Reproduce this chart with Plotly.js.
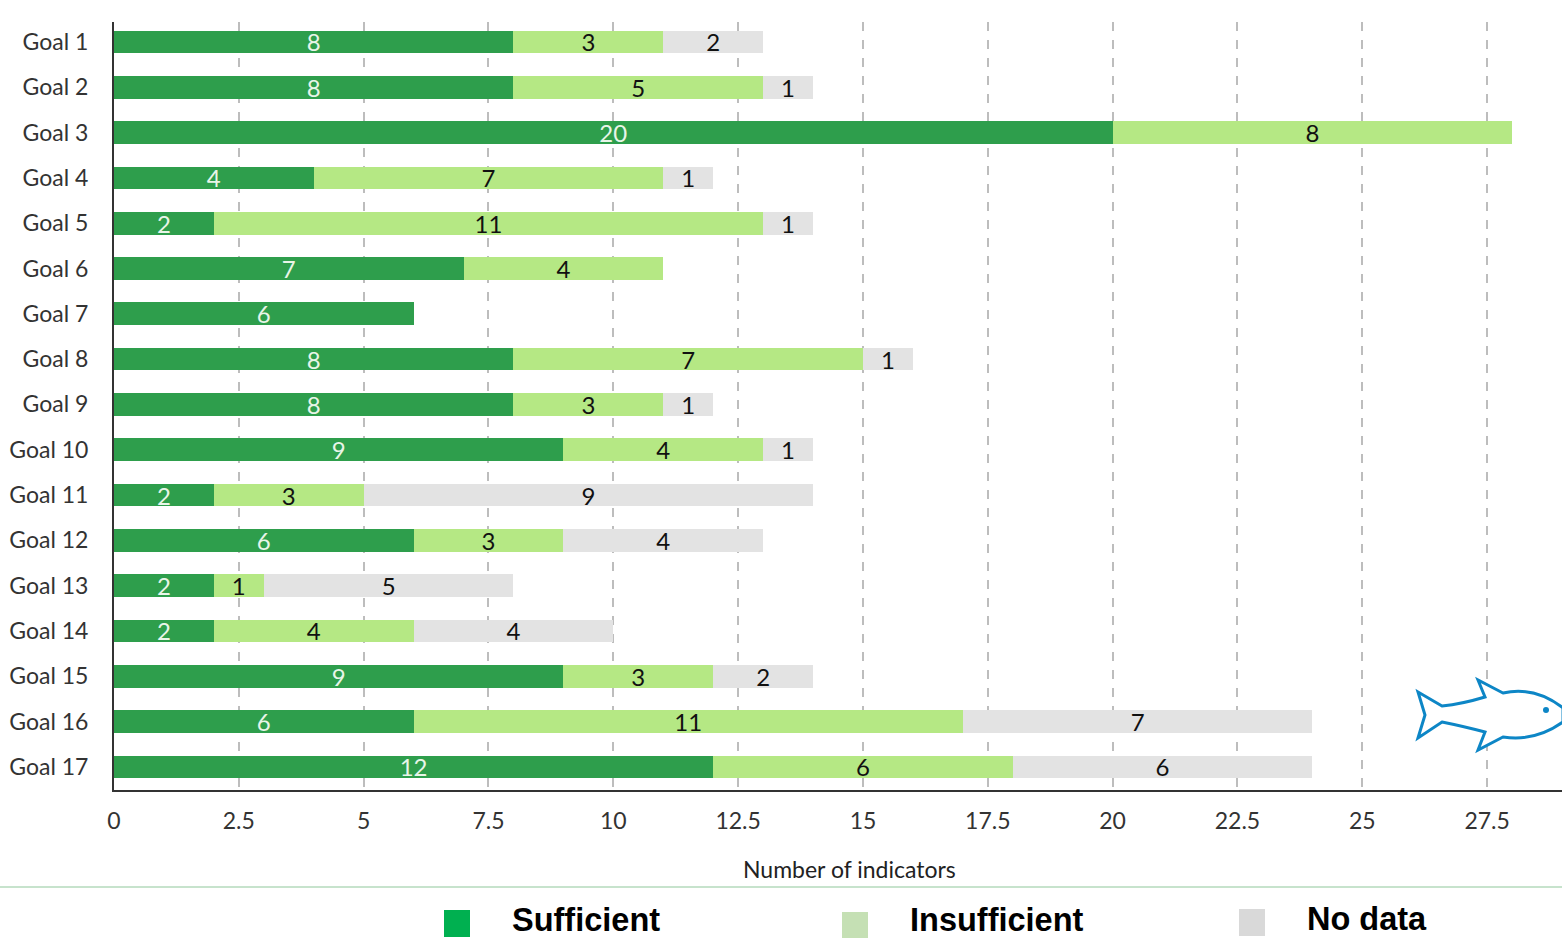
<!DOCTYPE html>
<html><head><meta charset="utf-8">
<script src="https://cdn.plot.ly/plotly-3.0.1.min.js"></script>
<style>html,body{margin:0;padding:0;background:#fff}#c{width:1562px;height:938px}</style></head>
<body><div id="c"></div>
<script>
const goals = ["Goal 1","Goal 2","Goal 3","Goal 4","Goal 5","Goal 6","Goal 7","Goal 8","Goal 9","Goal 10","Goal 11","Goal 12","Goal 13","Goal 14","Goal 15","Goal 16","Goal 17"];
const sufficient   = [8,8,20,4,2,7,6,8,8,9,2,6,2,2,9,6,12];
const insufficient = [3,5,8,7,11,4,null,7,3,4,3,3,1,4,3,11,6];
const noData       = [2,1,null,1,1,null,null,1,1,1,9,4,5,4,2,7,6];
const xTicks = [0,2.5,5,7.5,10,12.5,15,17.5,20,22.5,25,27.5];
const legendItems = [
  {label:"Sufficient",   colour:"#00b050", box:[444,910,470,937], textX:512, textY:920},
  {label:"Insufficient", colour:"#c5e0b4", box:[842,912,868,938], textX:910, textY:919.5},
  {label:"No data",      colour:"#d9d9d9", box:[1239,909,1265,936], textX:1307, textY:919}
];
const W=1562,H=938,L=114,T=22,B=148;
const px=x=>(x-L)/(W-L), py=y=>1-(y-T)/(H-T-B);
const pathOf=s=>s.map(c=>typeof c==='string'?c:px(c[0])+','+py(c[1])).join(' ');
const font="Lato, sans-serif";
function series(name,vals,colour,txt){
  return {type:'bar',orientation:'h',name,y:goals,x:vals,width:0.5,
    marker:{color:colour,line:{width:0}},
    text:vals.map(v=>v==null?'':String(v)),texttemplate:'%{text}',
    textposition:'inside',insidetextanchor:'middle',constraintext:'none',textangle:0,
    insidetextfont:{family:font,size:24,color:txt},hoverinfo:'skip',showlegend:false};
}
const data=[series("Sufficient",sufficient,"#2e9e4c","#e8f5e8"),
  series("Insufficient",insufficient,"#b5e884","#111111"),
  series("No data",noData,"#e3e3e3","#111111")];
const shapes=[
 {type:'line',xref:'paper',yref:'paper',x0:px(0),x1:1,y0:py(887),y1:py(887),line:{color:'#8fc79a',width:1}},
 {type:'path',xref:'paper',yref:'paper',layer:'above',fillcolor:'#ffffff',line:{color:'#0d86c6',width:3},
  path:pathOf(['M',[1418,692],'L',[1442,706],'Q',[1462,704],[1485,697],'L',[1478,680],'L',[1503,693],'Q',[1535,686],[1563,708],
   'L',[1563,722],'Q',[1535,742],[1503,737],'L',[1478,750],'L',[1485,732],'Q',[1462,726],[1442,722],'L',[1418,738],'L',[1425,715],'Z'])},
 {type:'circle',xref:'paper',yref:'paper',layer:'above',fillcolor:'#0d86c6',line:{width:0},x0:px(1543),x1:px(1549),y0:py(713),y1:py(707)}
];
const annotations=[
 {xref:'paper',yref:'paper',x:px(849),y:py(869),text:"Number of indicators",showarrow:false,xanchor:'center',yanchor:'middle',font:{family:font,size:23,color:'#222'}}
];
legendItems.forEach(it=>{
  shapes.push({type:'rect',xref:'paper',yref:'paper',x0:px(it.box[0]),x1:px(it.box[2]),y0:py(it.box[3]),y1:py(it.box[1]),fillcolor:it.colour,line:{width:0}});
  annotations.push({xref:'paper',yref:'paper',x:px(it.textX),y:py(it.textY),text:'<b>'+it.label+'</b>',showarrow:false,xanchor:'left',yanchor:'middle',xshift:-2,
    font:{family:'"Liberation Sans", Arial, sans-serif',size:32.5,color:'#000'}});
});
const layout={width:W,height:H,barmode:'stack',bargap:0.5,showlegend:false,
 paper_bgcolor:'#fff',plot_bgcolor:'#fff',
 margin:{l:L,r:0,t:T,b:B,autoexpand:false},
 xaxis:{range:[0,29],tickmode:'array',tickvals:xTicks,ticktext:xTicks.map(String),
   showgrid:true,gridcolor:'#bdbdbd',griddash:'dash',gridwidth:2,zeroline:false,
   showline:true,linecolor:'#333',linewidth:2,ticks:'',ticklen:0,ticklabelstandoff:9,
   tickfont:{family:font,size:23,color:'#333'},automargin:false},
 yaxis:{type:'category',categoryorder:'array',categoryarray:goals,range:[16.51,-0.44],
   showgrid:false,zeroline:false,showline:true,linecolor:'#333',linewidth:2,ticks:'',
   ticklen:0,ticklabelstandoff:19,tickfont:{family:font,size:23,color:'#333'},automargin:false},
 shapes,annotations};
Plotly.newPlot('c',data,layout,{staticPlot:true,displayModeBar:false});
</script></body></html>
